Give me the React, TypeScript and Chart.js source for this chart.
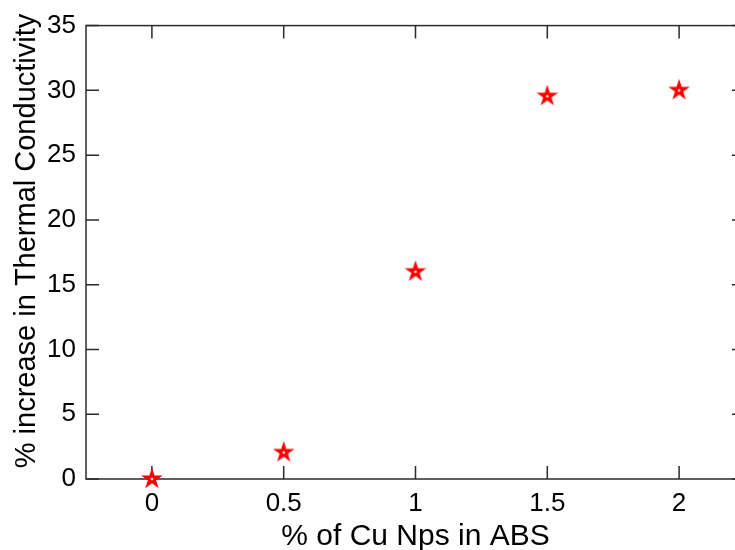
import React, { useEffect, useRef } from 'react';
import { Chart, registerables } from 'chart.js';

Chart.register(...registerables);

// ---- data ----
const xValues = [0, 0.5, 1, 1.5, 2];
const yValues = [0, 2.05, 16, 29.55, 30];
const xTickValues = [0, 0.5, 1, 1.5, 2];
const yTickValues = [0, 5, 10, 15, 20, 25, 30, 35];
const xTitle = '% of Cu Nps in ABS';
const yTitle = '% increase in Thermal Conductivity';

const FONT = "'Liberation Sans', Arial, Helvetica, sans-serif";
const AXIS_COLOR = '#2b2b2b';
const TICK_LEN = 13;

function makeStar(): HTMLCanvasElement {
  const size = 28;
  const c = document.createElement('canvas');
  c.width = size;
  c.height = size;
  const ctx = c.getContext('2d')!;
  const cx = size / 2;
  const cy = size / 2;
  const R = 11.4;
  const r = R * 0.382;
  ctx.beginPath();
  for (let i = 0; i < 10; i++) {
    const rad = i % 2 === 0 ? R : r;
    const a = -Math.PI / 2 + (i * Math.PI) / 5;
    const px = cx + rad * Math.cos(a);
    const py = cy + rad * Math.sin(a);
    if (i === 0) ctx.moveTo(px, py);
    else ctx.lineTo(px, py);
  }
  ctx.closePath();
  ctx.fillStyle = '#ff0000';
  ctx.fill();
  ctx.fillStyle = '#ffffff';
  ctx.beginPath();
  ctx.arc(cx, cy, 1.3, 0, Math.PI * 2);
  ctx.fill();
  return c;
}

const axesBox = {
  id: 'axesBox',
  beforeDatasetsDraw(chart: any) {
    const { ctx, chartArea } = chart;
    const { left, right, top, bottom } = chartArea;
    const xs = chart.scales.x;
    const ys = chart.scales.y;
    ctx.save();
    ctx.strokeStyle = AXIS_COLOR;
    ctx.lineWidth = 1.5;
    ctx.strokeRect(left, top, right - left, bottom - top);
    ctx.beginPath();
    xs.ticks.forEach((t: any) => {
      const px = xs.getPixelForValue(t.value);
      ctx.moveTo(px, bottom);
      ctx.lineTo(px, bottom - TICK_LEN);
      ctx.moveTo(px, top);
      ctx.lineTo(px, top + TICK_LEN);
    });
    ys.ticks.forEach((t: any) => {
      const py = ys.getPixelForValue(t.value);
      ctx.moveTo(left, py);
      ctx.lineTo(left + TICK_LEN, py);
      ctx.moveTo(right, py);
      ctx.lineTo(right - TICK_LEN, py);
    });
    ctx.stroke();
    ctx.restore();
  },
};

const axisTitles = {
  id: 'axisTitles',
  afterDraw(chart: any) {
    const { ctx, chartArea } = chart;
    const { left, right } = chartArea;
    ctx.save();
    ctx.fillStyle = '#000';
    ctx.textAlign = 'center';
    ctx.textBaseline = 'alphabetic';
    ctx.font = `30px ${FONT}`;
    ctx.fillText(xTitle, (left + right) / 2, 545);
    ctx.translate(35, 241);
    ctx.rotate(-Math.PI / 2);
    ctx.font = `29px ${FONT}`;
    ctx.fillText(yTitle, 0, 0);
    ctx.restore();
  },
};

export default function App() {
  const ref = useRef<HTMLCanvasElement | null>(null);

  useEffect(() => {
    if (!ref.current) return;
    Chart.defaults.font.family = FONT;
    const star = makeStar();
    const chart = new Chart(ref.current, {
      type: 'scatter',
      data: {
        datasets: [
          {
            data: xValues.map((x, i) => ({ x, y: yValues[i] })),
            pointStyle: star as any,
            pointRadius: 11,
            showLine: false,
            clip: false as any,
          },
        ],
      },
      options: {
        responsive: false,
        animation: false,
        devicePixelRatio: 1,
        layout: { padding: { top: 17, right: 15, left: 0, bottom: 0 } },
        plugins: { legend: { display: false }, tooltip: { enabled: false } },
        scales: {
          x: {
            type: 'linear',
            min: -0.25,
            max: 2.25,
            grid: { display: false, drawTicks: false },
            border: { display: false },
            afterBuildTicks: (s: any) => {
              s.ticks = xTickValues.map((v) => ({ value: v }));
            },
            afterFit: (s: any) => {
              s.height = 71;
            },
            ticks: {
              padding: 9,
              color: '#000',
              autoSkip: false,
              maxRotation: 0,
              font: { family: FONT, size: 26 },
              callback: (v: any) => String(v),
            },
            title: { display: false, text: xTitle },
          },
          y: {
            type: 'linear',
            min: 0,
            max: 35,
            grid: { display: false, drawTicks: false },
            border: { display: false },
            afterBuildTicks: (s: any) => {
              s.ticks = yTickValues.map((v) => ({ value: v }));
            },
            afterFit: (s: any) => {
              s.width = 86;
            },
            ticks: {
              padding: 10,
              color: '#000',
              autoSkip: false,
              font: { family: FONT, size: 26 },
              callback: (v: any) => String(v),
            },
            title: { display: false, text: yTitle },
          },
        },
      },
      plugins: [axesBox, axisTitles],
    });
    return () => chart.destroy();
  }, []);

  return (
    <div
      style={{
        position: 'fixed',
        left: 0,
        top: 0,
        width: 735,
        height: 550,
        overflow: 'hidden',
        background: '#fff',
      }}
    >
      <canvas ref={ref} width={760} height={550} style={{ width: 760, height: 550, display: 'block' }} />
    </div>
  );
}
